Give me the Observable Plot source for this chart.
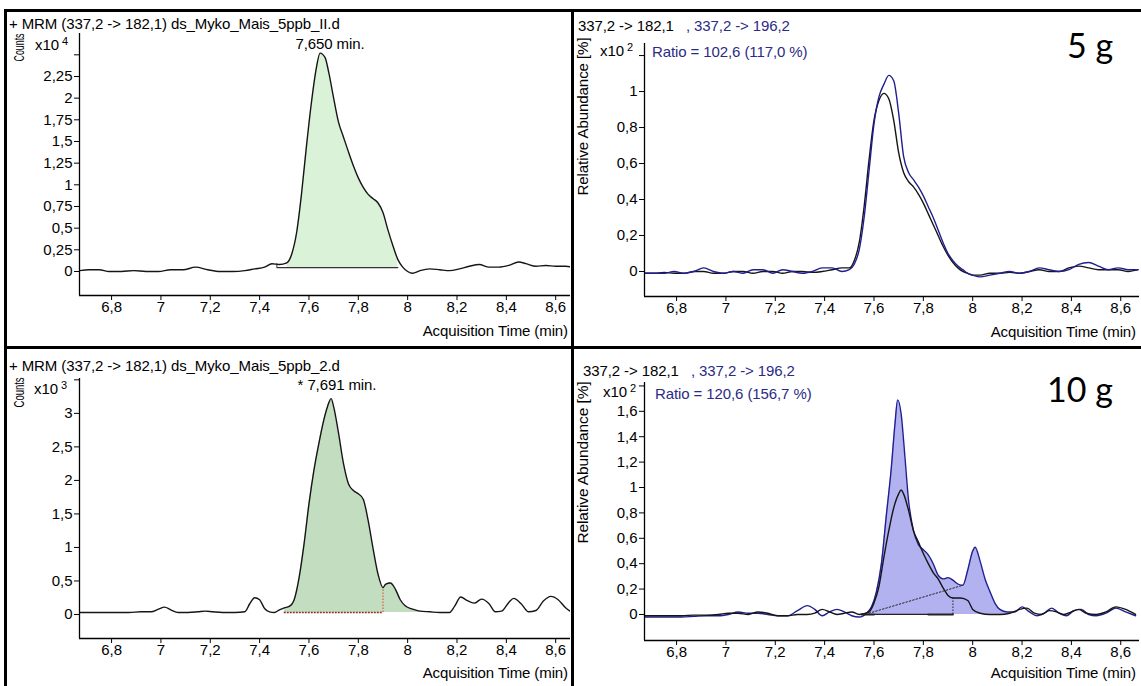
<!DOCTYPE html>
<html><head><meta charset="utf-8">
<script src="https://cdn.jsdelivr.net/npm/d3@7"></script>
<script src="https://cdn.jsdelivr.net/npm/@observablehq/plot@0.6"></script>
<style>
body{margin:0;background:#fff;}
#wrap{position:relative;width:1141px;height:686px;overflow:hidden;background:#fff;font-family:"Liberation Sans",Arial,sans-serif;}
.lbl{position:absolute;white-space:nowrap;font-size:15px;letter-spacing:-0.1px;line-height:17px;color:#000;}
.sup{font-size:11px;position:relative;top:-5px;margin-left:3px;}
.vert{writing-mode:vertical-rl;}
.big{font-family:Lato,"Open Sans",sans-serif;font-size:34px;letter-spacing:0;line-height:38px;color:#000;}
.navy{color:#2b2b86;}
.plot{position:absolute;}
.border{position:absolute;background:#000;}
</style></head><body><div id="wrap"></div>
<script>
// ---------- data ----------
const xTicks = [6.8, 7, 7.2, 7.4, 7.6, 7.8, 8, 8.2, 8.4, 8.6];
const tlTicks = [0, 0.25, 0.5, 0.75, 1, 1.25, 1.5, 1.75, 2, 2.25, 2.5];
const trTicks = [0, 0.2, 0.4, 0.6, 0.8, 1, 1.2];
const blTicks = [0, 0.5, 1, 1.5, 2, 2.5, 3, 3.5];
const brTicks = [0, 0.2, 0.4, 0.6, 0.8, 1, 1.2, 1.4, 1.6, 1.8];

// top-left: counts x10^4, MRM 337,2 -> 182,1, 5 g sample
const tlSignal = [[6.67,0.01],[6.71,0.02],[6.75,0.02],[6.79,0.0],[6.84,0.0],[6.89,0.01],[6.94,0.0],[6.99,0.0],[7.04,0.02],[7.09,0.02],[7.14,0.05],[7.19,0.02],[7.24,0.0],[7.29,0.0],[7.34,0.01],[7.38,0.03],[7.42,0.05],[7.45,0.09],[7.48,0.08],[7.51,0.10],[7.53,0.20],[7.55,0.45],[7.57,0.90],[7.59,1.45],[7.61,1.95],[7.63,2.35],[7.645,2.52],[7.665,2.47],[7.68,2.30],[7.70,2.00],[7.72,1.72],[7.74,1.55],[7.76,1.38],[7.78,1.22],[7.80,1.08],[7.82,0.97],[7.84,0.89],[7.86,0.84],[7.88,0.79],[7.90,0.68],[7.92,0.48],[7.94,0.30],[7.96,0.14],[7.98,0.05],[8.00,0.0],[8.02,-0.02],[8.05,0.01],[8.09,0.03],[8.13,0.02],[8.17,0.01],[8.21,0.03],[8.25,0.06],[8.29,0.08],[8.33,0.05],[8.37,0.05],[8.41,0.07],[8.45,0.11],[8.48,0.09],[8.52,0.06],[8.56,0.07],[8.60,0.06],[8.64,0.06],[8.67,0.05]];
const tlWindow = [7.51, 7.96];
const tlBaseline = [[7.47, 0.045], [7.96, 0.045]];

// top-right: relative abundance x10^2, quantifier (182,1) and qualifier (196,2)
const trQuant = [[6.67,-0.01],[6.71,-0.01],[6.75,-0.005],[6.79,-0.01],[6.83,-0.01],[6.87,0.0],[6.91,0.0],[6.95,-0.01],[6.99,-0.01],[7.03,0.0],[7.07,0.0],[7.11,-0.01],[7.15,0.0],[7.19,0.0],[7.23,-0.01],[7.27,0.0],[7.31,0.0],[7.35,-0.005],[7.39,0.0],[7.43,0.01],[7.47,0.02],[7.50,0.02],[7.52,0.06],[7.54,0.16],[7.56,0.36],[7.58,0.62],[7.60,0.84],[7.62,0.95],[7.64,0.99],[7.66,0.96],[7.68,0.84],[7.70,0.66],[7.72,0.55],[7.74,0.50],[7.76,0.47],[7.78,0.43],[7.80,0.38],[7.82,0.32],[7.84,0.26],[7.86,0.20],[7.88,0.14],[7.90,0.09],[7.92,0.05],[7.94,0.02],[7.96,0.0],[7.98,-0.01],[8.00,-0.02],[8.03,-0.02],[8.07,-0.01],[8.11,-0.01],[8.15,-0.005],[8.19,-0.01],[8.23,0.0],[8.27,0.01],[8.31,0.0],[8.35,0.0],[8.39,0.02],[8.43,0.03],[8.47,0.02],[8.51,0.01],[8.55,0.01],[8.59,0.01],[8.63,0.0],[8.67,0.01]];
const trQual = [[6.67,-0.01],[6.71,-0.01],[6.75,-0.01],[6.79,0.0],[6.83,-0.01],[6.87,0.0],[6.91,0.02],[6.95,0.0],[6.99,-0.01],[7.03,0.0],[7.07,-0.01],[7.11,0.01],[7.15,0.01],[7.19,-0.01],[7.23,0.01],[7.27,0.0],[7.31,-0.01],[7.35,0.0],[7.39,0.02],[7.43,0.02],[7.47,0.0],[7.50,0.01],[7.52,0.04],[7.54,0.12],[7.56,0.30],[7.58,0.56],[7.60,0.82],[7.62,0.97],[7.64,1.04],[7.66,1.09],[7.68,1.06],[7.70,0.88],[7.72,0.64],[7.74,0.55],[7.76,0.51],[7.78,0.47],[7.80,0.42],[7.82,0.36],[7.84,0.30],[7.86,0.23],[7.88,0.16],[7.90,0.10],[7.92,0.06],[7.94,0.03],[7.96,0.01],[7.98,-0.01],[8.00,-0.02],[8.03,-0.03],[8.07,-0.02],[8.11,-0.01],[8.15,0.0],[8.19,-0.01],[8.23,0.0],[8.27,0.02],[8.31,0.01],[8.35,0.0],[8.39,0.01],[8.43,0.04],[8.47,0.05],[8.51,0.03],[8.55,0.01],[8.59,0.02],[8.63,0.01],[8.67,0.01]];

// bottom-left: counts x10^3, 10 g sample
const blSignal = [[6.67,0.03],[6.72,0.03],[6.77,0.03],[6.82,0.03],[6.87,0.03],[6.92,0.04],[6.96,0.04],[6.99,0.08],[7.015,0.11],[7.04,0.07],[7.07,0.03],[7.11,0.03],[7.15,0.04],[7.18,0.05],[7.21,0.04],[7.25,0.03],[7.30,0.03],[7.34,0.04],[7.36,0.16],[7.38,0.25],[7.40,0.22],[7.42,0.09],[7.44,0.04],[7.46,0.03],[7.48,0.07],[7.50,0.10],[7.52,0.12],[7.54,0.22],[7.56,0.55],[7.58,1.05],[7.60,1.65],[7.62,2.15],[7.64,2.55],[7.66,2.90],[7.675,3.10],[7.69,3.22],[7.70,3.10],[7.72,2.70],[7.74,2.25],[7.76,1.95],[7.78,1.85],[7.80,1.80],[7.82,1.72],[7.84,1.40],[7.86,0.98],[7.88,0.60],[7.90,0.40],[7.91,0.45],[7.93,0.47],[7.95,0.38],[7.97,0.22],[7.99,0.13],[8.02,0.08],[8.05,0.05],[8.09,0.04],[8.13,0.03],[8.17,0.03],[8.19,0.12],[8.215,0.26],[8.24,0.21],[8.27,0.17],[8.30,0.23],[8.33,0.16],[8.355,0.04],[8.38,0.05],[8.41,0.18],[8.43,0.24],[8.46,0.16],[8.49,0.04],[8.52,0.06],[8.55,0.20],[8.58,0.27],[8.61,0.22],[8.64,0.10],[8.67,0.02]];
const blWindow = [7.50, 8.09];
const blBaselineLevel = 0.03;
const blSplit = 7.90;

// bottom-right: relative abundance x10^2
const brQuant = [[6.67,-0.01],[6.72,-0.01],[6.77,-0.01],[6.82,-0.01],[6.87,-0.005],[6.92,-0.005],[6.97,0.0],[7.01,0.01],[7.05,0.01],[7.09,0.0],[7.13,0.02],[7.17,0.01],[7.21,-0.01],[7.25,-0.01],[7.29,0.0],[7.33,0.0],[7.36,0.01],[7.39,0.04],[7.42,0.02],[7.45,0.0],[7.48,0.01],[7.51,0.02],[7.54,0.0],[7.58,0.02],[7.60,0.09],[7.62,0.22],[7.64,0.45],[7.66,0.66],[7.68,0.84],[7.70,0.95],[7.71,0.98],[7.72,0.95],[7.74,0.82],[7.76,0.66],[7.78,0.57],[7.80,0.48],[7.82,0.40],[7.84,0.33],[7.86,0.28],[7.88,0.21],[7.90,0.15],[7.92,0.13],[7.95,0.13],[7.98,0.11],[8.00,0.04],[8.03,0.01],[8.07,0.0],[8.11,0.0],[8.15,0.01],[8.19,0.04],[8.22,0.05],[8.25,0.01],[8.28,0.0],[8.31,0.03],[8.34,0.02],[8.37,0.0],[8.40,0.02],[8.43,0.04],[8.46,0.01],[8.50,0.0],[8.54,0.02],[8.58,0.06],[8.62,0.04],[8.66,0.0]];
const brQual = [[6.67,-0.02],[6.72,-0.02],[6.77,-0.02],[6.82,-0.02],[6.87,-0.015],[6.92,-0.01],[6.97,-0.01],[7.01,0.0],[7.05,0.02],[7.09,0.01],[7.13,0.01],[7.17,0.0],[7.21,-0.01],[7.25,-0.01],[7.29,0.03],[7.33,0.07],[7.36,0.04],[7.39,-0.01],[7.42,0.02],[7.45,0.04],[7.48,0.02],[7.51,-0.01],[7.54,-0.02],[7.57,0.01],[7.59,0.06],[7.61,0.18],[7.63,0.40],[7.65,0.78],[7.67,1.15],[7.685,1.50],[7.696,1.69],[7.71,1.58],[7.725,1.25],[7.74,0.90],[7.76,0.66],[7.78,0.55],[7.80,0.51],[7.82,0.47],[7.84,0.40],[7.86,0.31],[7.88,0.28],[7.90,0.29],[7.92,0.27],[7.94,0.24],[7.96,0.23],[7.98,0.35],[8.00,0.50],[8.01,0.53],[8.03,0.42],[8.05,0.28],[8.07,0.18],[8.09,0.09],[8.11,0.04],[8.14,0.02],[8.17,0.02],[8.20,0.06],[8.23,0.02],[8.26,-0.01],[8.29,0.01],[8.32,0.05],[8.35,0.01],[8.38,-0.01],[8.41,0.03],[8.44,0.04],[8.47,0.0],[8.50,-0.01],[8.54,0.01],[8.58,0.05],[8.62,0.02],[8.66,-0.01]];
const brWindow = [7.56, 8.14];
const brSplitLine = [[7.58, 0.01], [7.96, 0.23]];
const brBaseSolid = [[7.60, 0.0], [7.82, 0.0]];
const brBaseDotted = [[[7.55, 0.0], [7.60, 0.0]], [[7.82, 0.0], [7.92, 0.0]]];
const brDrop = 7.92;

// ---------- helpers ----------
const fmt = d => String(+(+d).toFixed(2)).replace(".", ",");
const X = d => d[0], Y = d => d[1];
const wrap = document.getElementById("wrap");
const BLACK = "#151515", NAVY = "#1f1f8f";

function panel(cfg) {
  const top = cfg.yTicks[cfg.yTicks.length - 1];
  const svg = Plot.plot({
    width: cfg.width, height: cfg.height,
    marginLeft: cfg.mL, marginRight: cfg.mR, marginTop: cfg.mT, marginBottom: cfg.mB,
    x: {domain: cfg.xDom}, y: {domain: cfg.yDom},
    style: {fontFamily: '"Liberation Sans", Arial, sans-serif', fontSize: "15px", color: "#000", background: "transparent"},
    marks: [
      ...cfg.marks,
      Plot.ruleX([cfg.xDom[0]], {stroke: "#000", strokeWidth: 1.3}),
      Plot.ruleY([cfg.yDom[0]], {stroke: "#000", strokeWidth: 1.3}),
      Plot.axisX({ticks: xTicks, tickFormat: fmt, tickSize: 5, tickPadding: 1, label: null}),
      Plot.axisY({ticks: cfg.yTicks, tickFormat: d => d === top ? "" : fmt(d), tickSize: 5, tickPadding: 2, label: null})
    ]
  });
  svg.classList.add("plot");
  svg.style.left = cfg.left + "px";
  svg.style.top = cfg.top + "px";
  wrap.appendChild(svg);
}

function label(html, x, y, anchor = "start", cls = "") {
  const d = document.createElement("div");
  d.className = "lbl " + cls;
  d.innerHTML = html;
  d.style.left = x + "px";
  d.style.top = y + "px";
  const tx = anchor === "middle" ? "-50%" : anchor === "end" ? "-100%" : "0";
  d.style.transform = `translate(${tx},-50%)`;
  wrap.appendChild(d);
}
function vlabel(text, cx, topY, length) {
  const d = document.createElement("div");
  d.className = "lbl vert";
  d.textContent = text;
  d.style.left = cx + "px";
  wrap.appendChild(d);
  const h = d.offsetHeight;
  const k = length / h;
  d.style.top = (topY - h * (1 - k) / 2) + "px";
  d.style.transform = `translate(-50%,0) scaleY(${k}) rotate(180deg)`;
}
function border(x, y, w, h) {
  const d = document.createElement("div");
  d.className = "border";
  Object.assign(d.style, {left: x + "px", top: y + "px", width: w + "px", height: h + "px"});
  wrap.appendChild(d);
}
const inWin = (w) => d => d[0] >= w[0] && d[0] <= w[1];
const line = (data, stroke, extra = {}) => Plot.line(data, {x: X, y: Y, stroke, strokeWidth: 1.4, curve: "monotone-x", clip: true, ...extra});

// ---------- panels ----------
panel({left: 5, top: 10, width: 567, height: 337, mL: 74, mR: 2, mT: 23, mB: 52,
  xDom: [6.67, 8.66], yDom: [-0.277, 2.746], yTicks: tlTicks,
  marks: [
    Plot.areaY(tlSignal.filter(inWin(tlWindow)), {x: X, y1: tlBaseline[0][1], y2: Y, fill: "#daf3d8", curve: "monotone-x"}),
    Plot.line(tlBaseline, {x: X, y: Y, stroke: "#333", strokeWidth: 1.3}),
    Plot.ruleX([tlBaseline[0][0]], {y1: tlBaseline[0][1], y2: 0.09, stroke: "#333", strokeWidth: 1}),
    line(tlSignal, BLACK)
  ]});

panel({left: 572, top: 10, width: 569, height: 337, mL: 72, mR: 2, mT: 33, mB: 51,
  xDom: [6.67, 8.676], yDom: [-0.139, 1.267], yTicks: trTicks,
  marks: [
    line(trQuant, BLACK),
    line(trQual, NAVY)
  ]});

panel({left: 5, top: 347, width: 567, height: 339, mL: 74, mR: 2, mT: 31, mB: 48,
  xDom: [6.67, 8.66], yDom: [-0.358, 3.52], yTicks: blTicks,
  marks: [
    Plot.areaY(blSignal.filter(inWin(blWindow)), {x: X, y1: blBaselineLevel, y2: Y, fill: "#c2ddbf", curve: "monotone-x"}),
    Plot.ruleY([blBaselineLevel], {x1: blWindow[0], x2: blSplit, stroke: "#8a3020", strokeWidth: 1.3, strokeDasharray: "2,1"}),
    Plot.ruleX([blSplit], {y1: blBaselineLevel, y2: blSignal.find(d => d[0] === blSplit)[1], stroke: "#e0603a", strokeWidth: 1.2, strokeDasharray: "1.5,1.5"}),
    line(blSignal, BLACK)
  ]});

panel({left: 572, top: 347, width: 569, height: 339, mL: 72, mR: 2, mT: 35, mB: 46,
  xDom: [6.67, 8.676], yDom: [-0.205, 1.827], yTicks: brTicks,
  marks: [
    Plot.areaY(brQual.filter(inWin(brWindow)), {x: X, y1: 0, y2: Y, fill: "#b2b2f1", curve: "monotone-x"}),
    line(brQual, NAVY),
    line(brQuant, BLACK),
    Plot.line(brSplitLine, {x: X, y: Y, stroke: "#222", strokeWidth: 1, strokeDasharray: "1.5,2"}),
    Plot.line(brBaseSolid, {x: X, y: Y, stroke: "#222", strokeWidth: 1.2}),
    ...brBaseDotted.map(seg => Plot.line(seg, {x: X, y: Y, stroke: "#222", strokeWidth: 2, strokeDasharray: "1,1"})),
    Plot.ruleX([brDrop], {y1: 0, y2: brQuant.find(d => d[0] === brDrop)[1], stroke: "#222", strokeWidth: 1, strokeDasharray: "1.5,1.5"})
  ]});

// ---------- texts ----------
const header = '337,2 -&gt; 182,1<span class="navy">&nbsp;&nbsp;&nbsp;, 337,2 -&gt; 196,2</span>';

label("+ MRM (337,2 -&gt; 182,1) ds_Myko_Mais_5ppb_II.d", 9, 23);
label("7,650 min.", 330, 43, "middle");
vlabel("Counts", 18, 33, 28);
label('x10<span class="sup">4</span>', 35, 45);
label("Acquisition Time (min)", 568, 330, "end");

label(header, 578, 25);
label("Ratio = 102,6 (117,0 %)", 652, 51, "start", "navy");
vlabel("Relative Abundance [%]", 582, 37, 158);
label('x10<span class="sup">2</span>', 600, 51);
label("5 g", 1067, 45, "start", "big");
label("Acquisition Time (min)", 1136, 331, "end");

label("+ MRM (337,2 -&gt; 182,1) ds_Myko_Mais_5ppb_2.d", 9, 365);
label("* 7,691 min.", 337, 384, "middle");
vlabel("Counts", 18, 377, 30);
label('x10<span class="sup">3</span>', 34, 389);
label("Acquisition Time (min)", 568, 672, "end");

label(header, 583, 370);
label("Ratio = 120,6 (156,7 %)", 655, 393, "start", "navy");
vlabel("Relative Abundance [%]", 582, 381, 162);
label('x10<span class="sup">2</span>', 603, 392);
label("10 g", 1047, 389, "start", "big");
label("Acquisition Time (min)", 1136, 672, "end");

// ---------- frame ----------
border(4, 9, 1137, 3);
border(4, 9, 3, 677);
border(571, 9, 3, 677);
border(4, 346, 1137, 3);
</script>
</body></html>
